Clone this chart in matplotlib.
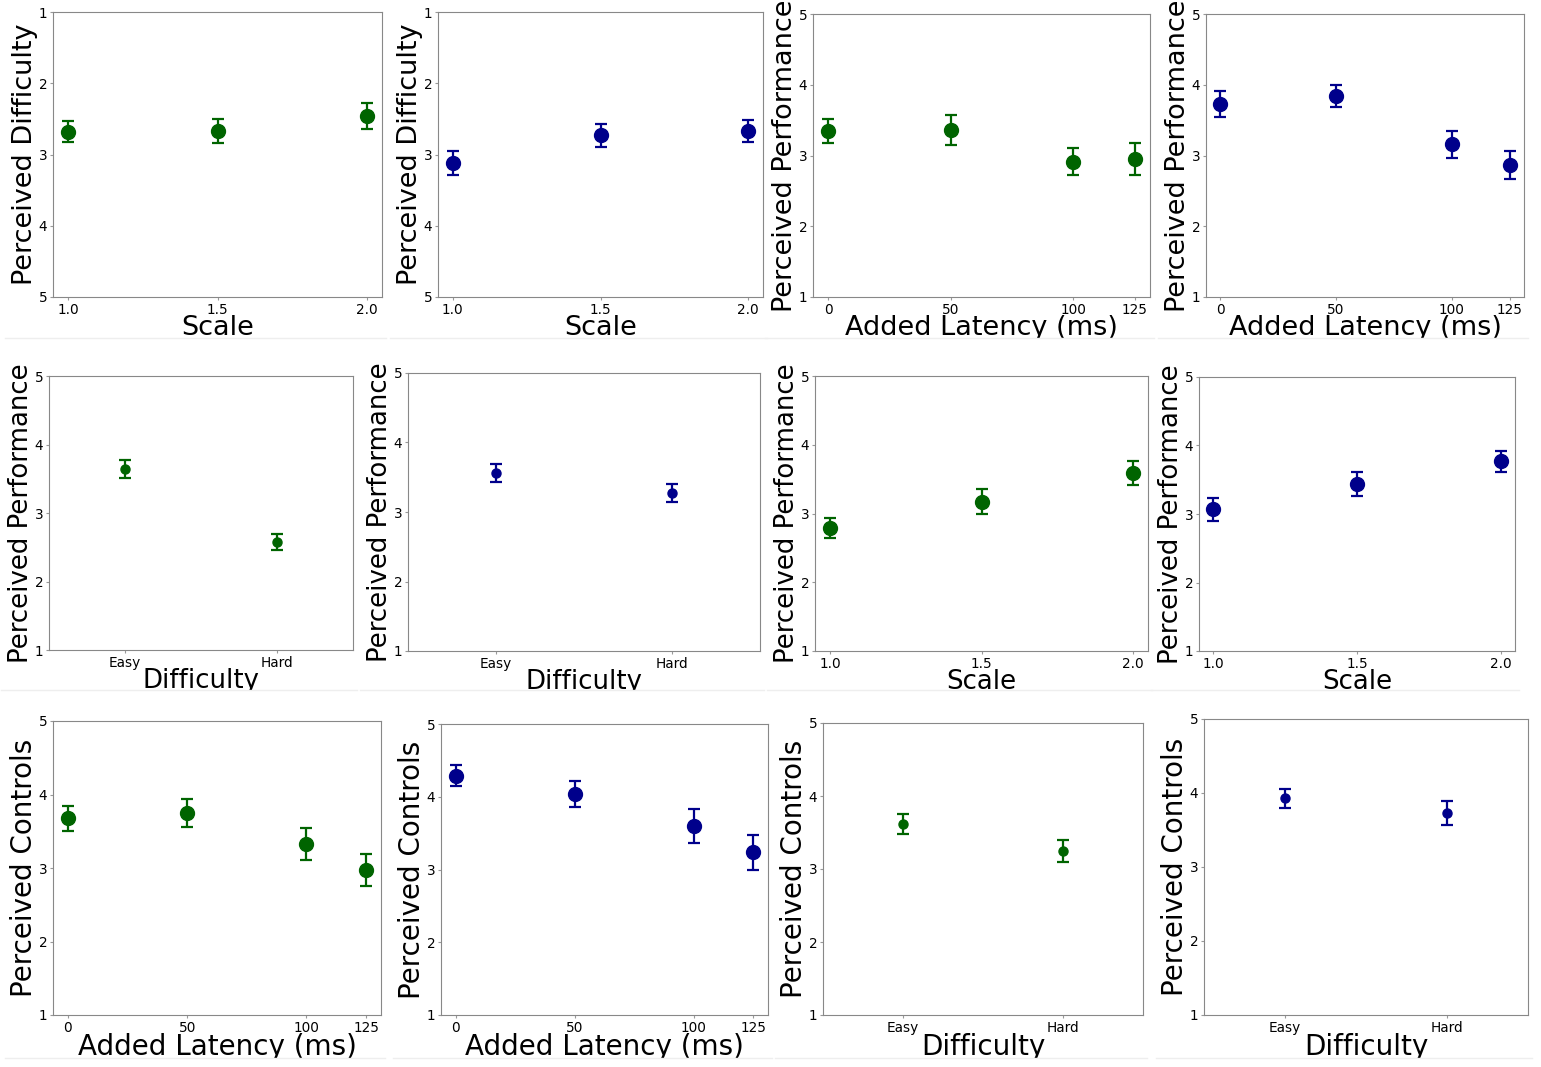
import matplotlib
matplotlib.use("Agg")
from matplotlib import pyplot as plt
from matplotlib.patches import Rectangle
from matplotlib.lines import Line2D

W, H = 1541, 1067

scale_levels = [1.0, 1.5, 2.0]
latency_levels = [0, 50, 100, 125]
difficulty_levels = ["Easy", "Hard"]

difficulty_by_scale_green = [2.68, 2.67, 2.46]
difficulty_by_scale_green_err = [0.15, 0.17, 0.18]
difficulty_by_scale_blue = [3.12, 2.73, 2.67]
difficulty_by_scale_blue_err = [0.17, 0.16, 0.16]

performance_by_latency_green = [3.35, 3.36, 2.91, 2.95]
performance_by_latency_green_err = [0.17, 0.21, 0.19, 0.22]
performance_by_latency_blue = [3.73, 3.84, 3.16, 2.87]
performance_by_latency_blue_err = [0.18, 0.15, 0.19, 0.20]

performance_by_difficulty_green = [3.64, 2.58]
performance_by_difficulty_green_err = [0.13, 0.12]
performance_by_difficulty_blue = [3.56, 3.27]
performance_by_difficulty_blue_err = [0.13, 0.13]

performance_by_scale_green = [2.79, 3.17, 3.59]
performance_by_scale_green_err = [0.15, 0.18, 0.18]
performance_by_scale_blue = [3.07, 3.44, 3.77]
performance_by_scale_blue_err = [0.17, 0.17, 0.15]

controls_by_latency_green = [3.68, 3.75, 3.33, 2.97]
controls_by_latency_green_err = [0.17, 0.19, 0.22, 0.22]
controls_by_latency_blue = [4.29, 4.04, 3.60, 3.24]
controls_by_latency_blue_err = [0.14, 0.18, 0.23, 0.24]

controls_by_difficulty_green = [3.62, 3.25]
controls_by_difficulty_green_err = [0.14, 0.15]
controls_by_difficulty_blue = [3.93, 3.73]
controls_by_difficulty_blue_err = [0.13, 0.16]

GREEN = "#006400"
BLUE = "#00008b"

# (x, y, err, colour, xlabel, ylabel, box in pixels: left, top, right, bottom)
panels = [
    (scale_levels, difficulty_by_scale_green, difficulty_by_scale_green_err, GREEN,
     "Scale", "Perceived Difficulty", (53, 12, 382, 297)),
    (scale_levels, difficulty_by_scale_blue, difficulty_by_scale_blue_err, BLUE,
     "Scale", "Perceived Difficulty", (438, 12, 763, 297)),
    (latency_levels, performance_by_latency_green, performance_by_latency_green_err, GREEN,
     "Added Latency (ms)", "Perceived Performance", (813, 14, 1150, 297)),
    (latency_levels, performance_by_latency_blue, performance_by_latency_blue_err, BLUE,
     "Added Latency (ms)", "Perceived Performance", (1206, 14, 1524, 297)),
    (difficulty_levels, performance_by_difficulty_green, performance_by_difficulty_green_err, GREEN,
     "Difficulty", "Perceived Performance", (49, 376, 353, 650)),
    (difficulty_levels, performance_by_difficulty_blue, performance_by_difficulty_blue_err, BLUE,
     "Difficulty", "Perceived Performance", (408, 373, 760, 651)),
    (scale_levels, performance_by_scale_green, performance_by_scale_green_err, GREEN,
     "Scale", "Perceived Performance", (815, 376, 1148, 651)),
    (scale_levels, performance_by_scale_blue, performance_by_scale_blue_err, BLUE,
     "Scale", "Perceived Performance", (1199, 377, 1515, 651)),
    (latency_levels, controls_by_latency_green, controls_by_latency_green_err, GREEN,
     "Added Latency (ms)", "Perceived Controls", (53, 721, 381, 1015)),
    (latency_levels, controls_by_latency_blue, controls_by_latency_blue_err, BLUE,
     "Added Latency (ms)", "Perceived Controls", (441, 724, 768, 1015)),
    (difficulty_levels, controls_by_difficulty_green, controls_by_difficulty_green_err, GREEN,
     "Difficulty", "Perceived Controls", (823, 723, 1143, 1015)),
    (difficulty_levels, controls_by_difficulty_blue, controls_by_difficulty_blue_err, BLUE,
     "Difficulty", "Perceived Controls", (1204, 719, 1528, 1015)),
]

# per row: label size, where the row gets cut off, where the next one starts
row_font = [19.5, 18.7, 20]
row_cut = [338, 690, 1058]
row_next = [356, 712, 1067]

fig = plt.figure(figsize=(W / 100, H / 100), dpi=100)

for i, (x, y, err, col, xl, yl, box) in enumerate(panels):
    row = i // 4
    l, t, r, b = box
    ax = fig.add_axes([l / W, 1 - b / H, (r - l) / W, (b - t) / H])
    if isinstance(x[0], str):
        pos = list(range(len(x)))
        ax.errorbar(pos, y, yerr=err, fmt="o", color=col, ecolor=col,
                    markersize=6.5, capsize=4, elinewidth=1.6, capthick=1.6)
        ax.set_xticks(pos)
        ax.set_xticklabels(x)
        ax.set_xlim(-0.5, 1.5)
    else:
        ax.errorbar(x, y, yerr=err, fmt="o", color=col, ecolor=col,
                    markersize=10, capsize=4.5, elinewidth=1.6, capthick=1.6)
        ax.set_xticks(x)
        if x is scale_levels:
            ax.set_xticklabels(["%.1f" % v for v in x])
    if yl == "Perceived Difficulty":
        ax.set_ylim(5, 1)
    else:
        ax.set_ylim(1, 5)
    ax.set_yticks([1, 2, 3, 4, 5])
    ax.set_xlabel(xl, fontsize=row_font[row], labelpad=-1)
    ax.set_ylabel(yl, fontsize=row_font[row], labelpad=0.5)
    ax.tick_params(labelsize=9.8, length=2, color="#999999", pad=2)
    for s in ax.spines.values():
        s.set_color("#888888")

    # trim the bottom of the x label and draw the faint edge line
    cut = row_cut[row]
    fig.patches.append(Rectangle((l / W - 0.06, 1 - row_next[row] / H), (r - l) / W + 0.08,
                                 (row_next[row] - cut) / H, transform=fig.transFigure,
                                 facecolor="white", edgecolor="none", zorder=10))
    fig.lines.append(Line2D([(l - 48) / W, (r + 4) / W], [1 - cut / H, 1 - cut / H],
                            transform=fig.transFigure, color="#eeeeee", lw=1, zorder=11))

fig.savefig("out.png", dpi=100)
